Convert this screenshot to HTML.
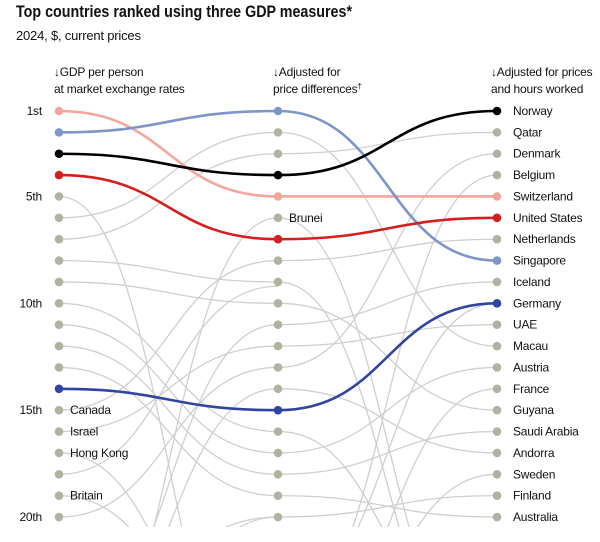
<!DOCTYPE html>
<html style="overflow:hidden"><head><meta charset="utf-8"><style>
html,body{margin:0;background:#fff;width:600px;height:542px;overflow:hidden;font-family:"Liberation Sans",sans-serif;}
svg{position:absolute;left:0;top:0;display:block;overflow:hidden}
text{font-family:"Liberation Sans",sans-serif;fill:#111}
</style></head><body>
<svg width="600" height="542" id="s">
<defs><clipPath id="cp"><rect x="0" y="0" width="600" height="527"/></clipPath></defs>
<text x="16" y="17" font-size="16.5" font-weight="bold" textLength="336" lengthAdjust="spacingAndGlyphs">Top countries ranked using three GDP measures*</text>
<text x="16" y="40" font-size="13" letter-spacing="-0.2">2024, $, current prices</text>
<g font-size="12" letter-spacing="-0.2">
<text x="54" y="76">↓GDP per person</text><text x="54" y="93">at market exchange rates</text>
<text x="273" y="76">↓Adjusted for</text><text x="273" y="93">price differences<tspan font-size="8" dy="-4">†</tspan></text>
<text x="491" y="76">↓Adjusted for prices</text><text x="491" y="93">and hours worked</text>
</g>
<g id="g" clip-path="url(#cp)"></g>
</svg>
<script>
var X=[59,278,497];function Y(r){return 111+(r-1)*21.37;}
var g=document.getElementById('g'),ns='http://www.w3.org/2000/svg';
function el(t,a){var e=document.createElementNS(ns,t);for(var k in a)e.setAttribute(k,a[k]);g.appendChild(e);return e;}
function seg(c,a,b,col,w){var x1=X[c],x2=X[c+1],y1=Y(a),y2=Y(b),m=(x1+x2)/2;
el('path',{d:'M'+x1+' '+y1+'C'+m+' '+y1+' '+m+' '+y2+' '+x2+' '+y2,fill:'none',stroke:col,'stroke-width':w});}
var gr='#cfcfcf';
var L=[[5,30],[6,2],[7,3],[8,9],[9,10],[10,16],[11,17],[12,18],[13,19],[15,8],[16,12],[17,28],[18,9.2],[19,27],[20,13],[29,6],[26,11],[27,14],[30,20],[25,20]];
var R=[[2,12],[3,2],[6,27],[8,7],[9,28],[10,15],[11,9],[12,11],[13,3],[14,17],[16,26],[17,13],[18,16],[19,20],[20,19],[25,4],[27,14],[28,18],[24,10]];
L.forEach(function(p){seg(0,p[0],p[1],gr,1.3)});R.forEach(function(p){seg(1,p[0],p[1],gr,1.3)});
var H=[[[1,5,5],'#f4a69a'],[[2,1,8],'#7d95c8'],[[3,4,1],'#000'],[[4,7,6],'#d41f1f'],[[14,15,10],'#2f46a1']];
H.forEach(function(h){seg(0,h[0][0],h[0][1],h[1],2.6);seg(1,h[0][1],h[0][2],h[1],2.6);});
var hc={};H.forEach(function(h){for(var c=0;c<3;c++)hc[c+'_'+h[0][c]]=h[1];});
for(var c=0;c<3;c++)for(var r=1;r<=20;r++)el('circle',{cx:X[c],cy:Y(r),r:4.3,fill:hc[c+'_'+r]||'#b3b2a2'});
function t(x,y,s,a){var e=el('text',{x:x,y:y+4,'font-size':12,'text-anchor':a||'start','letter-spacing':'-0.2'});e.textContent=s;}
[[1,'1st'],[5,'5th'],[10,'10th'],[15,'15th'],[20,'20th']].forEach(function(p){t(42,Y(p[0]),p[1],'end')});
[[15,'Canada'],[16,'Israel'],[17,'Hong Kong'],[19,'Britain']].forEach(function(p){t(70,Y(p[0]),p[1])});
t(289,Y(6),'Brunei');
['Norway','Qatar','Denmark','Belgium','Switzerland','United States','Netherlands','Singapore','Iceland','Germany','UAE','Macau','Austria','France','Guyana','Saudi Arabia','Andorra','Sweden','Finland','Australia'].forEach(function(n,i){t(513,Y(i+1),n)});
</script>
</body></html>
